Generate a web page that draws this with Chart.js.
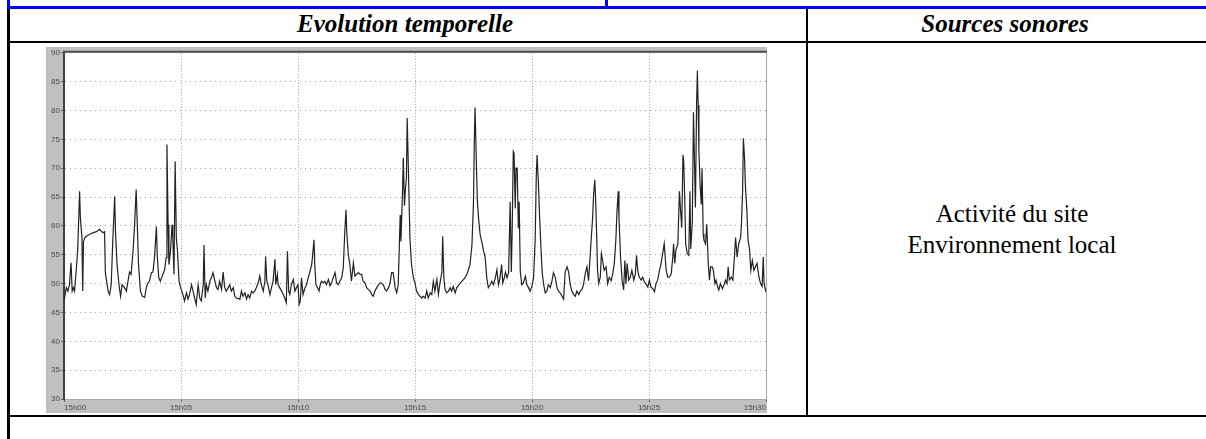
<!DOCTYPE html>
<html lang="fr">
<head>
<meta charset="utf-8">
<title>Evolution temporelle</title>
<script src="https://cdn.jsdelivr.net/npm/chart.js@4.4.0/dist/chart.umd.min.js"></script>
<style>
  html, body { margin: 0; padding: 0; background: #fff; }
  body { width: 1206px; height: 439px; position: relative; overflow: hidden; font-family: "Liberation Serif", "Times New Roman", serif; }
  .rule { position: absolute; }
  .blue { background: #0000ff; }
  .black { background: #000; }
  .txt { position: absolute; font-size: 25px; line-height: 30px; text-align: center; color: #000; white-space: nowrap; }
  .head { font-weight: bold; font-style: italic; }
  #chartBox { position: absolute; left: 46px; top: 47px; width: 721px; height: 366px; background: #c0c0c0; }
</style>
</head>
<body>
<div class="rule blue" style="left:7px;top:0;width:3px;height:9px"></div>
<div class="rule blue" style="left:605px;top:0;width:3px;height:7px"></div>
<div class="rule blue" style="left:7px;top:6px;width:1199px;height:3px"></div>
<div class="rule black" style="left:7px;top:9px;width:3px;height:430px"></div>
<div class="rule black" style="left:10px;top:41px;width:1196px;height:2px"></div>
<div class="rule black" style="left:806px;top:9px;width:2px;height:408px"></div>
<div class="rule black" style="left:10px;top:415px;width:1196px;height:2px"></div>

<div class="txt head" style="left:10px;width:790px;top:9px">Evolution temporelle</div>
<div class="txt head" style="left:808px;width:394px;top:9px">Sources sonores</div>
<div class="txt" style="left:808px;width:408px;top:198px;line-height:31px">Activité du site<br>Environnement local</div>

<div id="chartBox"><canvas id="levelChart" width="721" height="366"></canvas></div>

<script>
// temps en secondes depuis 15h00
const times = [
  0, 6, 10, 14, 18, 21, 24, 27, 31, 35,
  40, 42, 46, 48, 50, 53, 57, 65, 74, 83,
  91, 100, 104, 106, 108, 113, 117, 121, 125, 130,
  132, 136, 141, 145, 149, 155, 160, 164, 168, 172,
  177, 181, 185, 188, 191, 196, 201, 207, 211, 215,
  219, 224, 228, 232, 237, 239, 243, 247, 252, 258,
  262, 264, 267, 269, 273, 277, 279, 282, 285, 288,
  291, 295, 299, 305, 309, 314, 318, 322, 327, 331,
  335, 339, 344, 348, 352, 357, 359, 362, 365, 369,
  374, 378, 382, 386, 391, 395, 399, 404, 408, 412,
  416, 421, 425, 429, 434, 438, 442, 451,
  455, 459, 464, 468, 472, 476, 481, 485, 489, 493,
  498, 502, 506, 511, 515, 517, 520, 523, 528, 532,
  536, 541, 543, 547, 549, 553, 558, 562, 566, 570,
  573, 576, 579, 583, 588, 592, 596, 600, 603, 606,
  609, 613, 618, 622, 626, 630, 635, 637, 641, 643,
  646, 650, 654, 657, 660, 665, 669, 673, 678, 682,
  686, 690, 695, 699, 703, 707, 712, 716, 720, 723,
  725, 729, 733, 737, 742, 746, 750, 755, 759, 763,
  767, 772, 776, 780, 785, 789, 793, 797, 802, 806,
  810, 814, 819, 823, 827, 832, 836, 840, 844, 849,
  853, 857, 862, 864, 868, 870, 873, 875, 878, 880,
  883, 887, 891, 896, 900,
  904, 909, 913, 917, 921, 926, 930, 934, 939, 943,
  947, 951, 956, 960, 964, 969, 971, 974, 977, 981,
  986, 990, 994, 998, 1003, 1007, 1011, 1016, 1020, 1024,
  1028, 1033, 1037, 1041, 1046, 1050, 1052, 1054, 1057, 1060,
  1063, 1067, 1071, 1076, 1080, 1084, 1088, 1093, 1097, 1101,
  1106, 1110, 1114, 1118, 1122, 1125, 1129, 1132, 1136, 1140,
  1144, 1147, 1149, 1152, 1154, 1157, 1159, 1162, 1165, 1167,
  1170, 1174, 1178, 1183, 1187, 1191, 1195, 1200, 1204, 1208,
  1211, 1213, 1216, 1219, 1223, 1226, 1230, 1234, 1238, 1242,
  1247, 1251, 1255, 1260, 1264, 1268, 1272, 1277, 1281, 1285,
  1290, 1294, 1298, 1302, 1307, 1311, 1315, 1320, 1324, 1328,
  1332, 1337,
  1341, 1345, 1349, 1352, 1355, 1358, 1361, 1363, 1366, 1368,
  1371, 1375, 1378, 1381, 1385, 1390, 1394, 1398, 1403, 1407,
  1411, 1415, 1418, 1421, 1423, 1427, 1431, 1435, 1438, 1441,
  1444, 1448, 1452, 1456, 1461, 1465, 1468, 1471, 1475, 1480,
  1484, 1488, 1492, 1497, 1501, 1505, 1510, 1514, 1518, 1522,
  1527, 1531, 1535, 1539, 1544, 1548, 1552, 1557, 1561, 1563,
  1566, 1569, 1574, 1578, 1581, 1584, 1587, 1589, 1592, 1594,
  1598, 1602, 1605, 1607, 1611, 1614, 1617, 1619, 1622, 1624,
  1626, 1628, 1631, 1634, 1636, 1639, 1641, 1645, 1648, 1652,
  1655, 1658, 1662, 1665, 1669, 1672, 1676, 1679, 1683, 1688,
  1692, 1696, 1700, 1703, 1706, 1711, 1715, 1719, 1722, 1726,
  1730, 1735, 1737, 1740, 1742, 1745, 1747, 1751, 1754, 1758,
  1761, 1765, 1769, 1773, 1777, 1782, 1786, 1790, 1793, 1795, 1800
];

// niveau sonore en dB(A)
const levels = [
  47, 49.3, 48.7, 49.8, 53.6, 48.7, 49.3, 48.7, 52, 55.6,
  66, 61.4, 57.9, 48.7, 57.3, 57.9, 58.2, 58.5, 58.8, 59,
  59.4, 58.8, 59, 51.9, 51, 48.7, 48.1, 49.8, 57.3, 65.1,
  59, 53.3, 49.8, 47.8, 49.8, 49.3, 48.7, 50.4, 52, 51.6,
  55.6, 60.2, 66.3, 60.2, 53.3, 48.7, 47.8, 47.6, 49.3, 50.1,
  50.4, 51.9, 52, 54.5, 59.9, 55, 51, 50.4, 51.3, 52.4,
  54.5, 74.1, 60.2, 53.3, 55.6, 60.2, 57.9, 51.6, 71.2, 57.9,
  55.6, 50.4, 49.3, 48.1, 47, 48.4, 47.3, 48.1, 49.8, 48.7,
  47.5, 46.4, 49.8, 47.5, 47, 49.8, 56.7, 47.5, 49.8, 48.7,
  50.4, 51, 51.9, 50.7, 49.3, 49, 50.4, 49, 52, 49.3,
  48.7, 49.3, 49.8, 48.7, 49.3, 47.8, 47.5, 47.3,
  48.7, 47.8, 48.4, 47.3, 48.1, 47.5, 48.7, 48.4, 48.7, 49.3,
  50.1, 51.3, 49.8, 48.7, 50.4, 54.7, 50.4, 49.8, 48.1, 49.3,
  50.4, 54.2, 49.8, 51.6, 49.8, 49.3, 48.7, 48.1, 47.5, 46.7,
  55.6, 48.7, 48.1, 49.8, 50.7, 48.7, 49.3, 49.8, 46.4, 47,
  51, 48.1, 49.3, 49.8, 51, 51.9, 53.3, 54.5, 57.6, 53.3,
  49.8, 49.3, 48.7, 49.8, 50.4, 50.1, 50.4, 49.8, 50.7, 49.6,
  50.1, 51, 51.9, 50.1, 49.8, 50.4, 51, 52.7, 59, 62.8,
  59, 55, 53.3, 50.4, 53.6, 51.3, 51.6, 51.9, 51.6, 51.6,
  50.4, 50.1, 49.3, 49, 48.7, 48.1, 47.8, 48.7, 49.3, 49.8,
  50.1, 50.1, 49.8, 49, 48.7, 49.3, 50.1, 51.9, 51.9, 49.3,
  48.4, 49.8, 61.9, 57.3, 66, 71.8, 63.5, 66, 68.3, 78.7,
  70, 57.9, 53.3, 51, 50.1,
  48.7, 48.1, 47.8, 47.5, 47.8, 47.5, 48.7, 47.5, 48.4, 48.1,
  50.4, 48.7, 50.7, 48.1, 50.1, 52, 58.2, 51, 49, 48.4,
  48.7, 49.3, 48.7, 49.5, 48.4, 49.3, 49.6, 50.1, 50.4, 50.7,
  51, 51.6, 52.4, 53.3, 56.7, 64.2, 74.6, 80.5, 71.8, 64.2,
  61.3, 58.5, 57.3, 55.6, 54.5, 51, 49.3, 49.8, 50.4, 49.8,
  51, 52.4, 49.8, 51, 53.3, 50.1, 51, 52, 51, 51.9,
  64.2, 52, 58.5, 72.9, 72.6, 63, 70, 70, 59.6, 64.2,
  52, 49.8, 50.1, 51.3, 49.8, 49.3, 48.7, 49.6, 51, 57.3,
  68.7, 72.3, 68.1, 62.4, 56.2, 52, 49.8, 48.4, 48.7, 49.8,
  49.3, 50.4, 51.9, 51, 49.3, 48.7, 48.4, 47.8, 47.3, 52,
  52.9, 52, 49.8, 48.7, 48.1, 47.8, 48.7, 48.1, 48.7, 49,
  49.8, 51.9,
  52.9, 50.5, 54.6, 58, 60.9, 65.5, 68, 64.9, 58, 52.3,
  50, 51.1, 55.2, 54, 52.3, 52.9, 50, 51.1, 50.5, 51.7,
  53.5, 57.5, 62.6, 66, 61.5, 54.6, 50.6, 48.9, 54, 50,
  53.5, 50.6, 51.1, 52.3, 50.6, 51.7, 54.9, 52.3, 51.1, 50.6,
  51.1, 50.3, 50, 49.4, 50.6, 49.4, 49.1, 48.6, 50, 50.6,
  52.3, 53.5, 55.2, 56.9, 52.3, 51.1, 51.1, 51.7, 54.6, 56.9,
  53.5, 55.8, 56.9, 66, 62.6, 59.7, 72.3, 71.2, 63.7, 56.9,
  55.2, 54.9, 66, 56, 60.6, 79.7, 70, 63.2, 80.9, 86.9,
  80.9, 72.9, 67.2, 63.7, 70, 58.6, 57.5, 56.9, 60.3, 53.5,
  50.6, 52.9, 52.9, 52.3, 50, 50.6, 49.4, 48.9, 50, 49.1,
  49.7, 50.6, 50, 52.9, 50.6, 51.1, 50.6, 54.6, 58, 54.6,
  56.9, 58, 60.3, 66, 75.2, 71.7, 67.2, 62.6, 57.5, 55.8,
  52.3, 54, 52.3, 52.9, 53.5, 51.1, 50, 49.5, 54.6, 50, 48.5
];

const xTickLabels = ['15h00', '15h05', '15h10', '15h15', '15h20', '15h25', '15h30'];
const yTickValues = [30, 35, 40, 45, 50, 55, 60, 65, 70, 75, 80, 85, 90];

if (times.length !== levels.length) {
    console.warn('times/levels:', times.length, levels.length);
}

const points = times.map((t, i) => ({ x: t, y: levels[i] }));

// fond blanc de la zone de tracé + bords haut / droite
const plotFrame = {
    id: 'plotFrame',
    beforeDraw(chart) {
        const a = chart.chartArea;
        const c = chart.ctx;
        c.save();
        c.fillStyle = '#ffffff';
        c.fillRect(a.left, a.top, a.right - a.left, a.bottom - a.top);
        c.restore();
    },
    afterDraw(chart) {
        const a = chart.chartArea;
        const c = chart.ctx;
        c.save();
        c.strokeStyle = '#a8a8a8';
        c.lineWidth = 1;
        c.beginPath();
        c.moveTo(a.right + 0.5, a.top);
        c.lineTo(a.right + 0.5, a.bottom);
        c.stroke();
        c.strokeStyle = '#505050';
        c.lineWidth = 2;
        c.beginPath();
        c.moveTo(a.left - 1, a.top - 1);
        c.lineTo(a.right + 1, a.top - 1);
        c.stroke();
        c.restore();
    }
};

const tickFont = { family: 'Liberation Sans, Arial, sans-serif', size: 8 };

const ctx = document.getElementById('levelChart').getContext('2d');
const levelChart = new Chart(ctx, {
    type: 'line',
    data: {
        datasets: [{
            label: 'Niveau',
            data: points,
            borderColor: '#222222',
            borderWidth: 1.2,
            pointRadius: 0,
            tension: 0,
            fill: false
        }]
    },
    options: {
        responsive: false,
        animation: false,
        events: [],
        layout: { padding: { top: 2, right: 1, left: 0, bottom: 0 } },
        plugins: {
            legend: { display: false },
            tooltip: { enabled: false }
        },
        scales: {
            x: {
                type: 'linear',
                min: 0,
                max: 1800,
                afterFit(scale) { scale.height = 14; },
                ticks: {
                    stepSize: 300,
                    align: 'inner',
                    autoSkip: false,
                    maxRotation: 0,
                    padding: 1,
                    color: '#4a4a4a',
                    font: tickFont,
                    callback: (value) => xTickLabels[Math.round(value / 300)]
                },
                grid: {
                    color: '#a0a0a0',
                    tickLength: 3,
                    tickColor: '#606060',
                    tickBorderDash: []
                },
                border: { color: '#a8a8a8', width: 1, dash: [1, 2] }
            },
            y: {
                min: 30,
                max: 90,
                afterFit(scale) { scale.width = 18; },
                afterBuildTicks(scale) { scale.ticks = yTickValues.map(v => ({ value: v })); },
                ticks: {
                    padding: 1,
                    color: '#4a4a4a',
                    font: tickFont
                },
                grid: {
                    color: '#a0a0a0',
                    tickLength: 3,
                    tickColor: '#606060',
                    tickBorderDash: []
                },
                border: { color: '#404040', width: 2, dash: [1, 4] }
            }
        }
    },
    plugins: [plotFrame]
});
</script>
</body>
</html>
